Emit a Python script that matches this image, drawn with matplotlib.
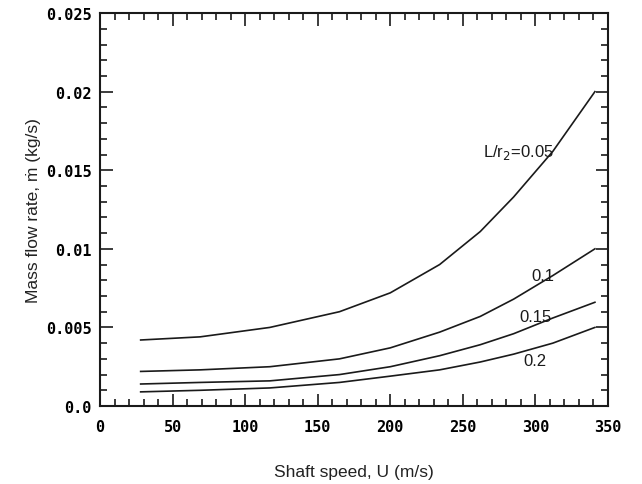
import matplotlib
matplotlib.use("Agg")
import matplotlib.pyplot as plt
from matplotlib.ticker import MultipleLocator, FixedLocator

# Data
U = [28, 69, 117, 165, 200, 234, 262, 285, 312, 341]
m_005 = [0.0042, 0.0044, 0.0050, 0.0060, 0.0072, 0.0090, 0.0111, 0.0133, 0.0162, 0.0200]
m_010 = [0.0022, 0.0023, 0.0025, 0.0030, 0.0037, 0.0047, 0.0057, 0.0068, 0.0083, 0.0100]
m_015 = [0.0014, 0.0015, 0.0016, 0.0020, 0.0025, 0.0032, 0.0039, 0.0046, 0.0056, 0.0066]
m_020 = [0.0009, 0.0010, 0.00115, 0.0015, 0.0019, 0.0023, 0.0028, 0.0033, 0.0040, 0.0050]
series = [m_005, m_010, m_015, m_020]
labels = ["L/r$_2$=0.05", "0.1", "0.15", "0.2"]
label_pos = [(288, 0.0162), (305, 0.0083), (300, 0.0057), (300, 0.0029)]

x_ticks = [0, 50, 100, 150, 200, 250, 300, 350]
x_ticklabels = ["0", "50", "100", "150", "200", "250", "300", "350"]
y_ticks = [0.0, 0.005, 0.01, 0.015, 0.02, 0.025]
y_ticklabels = ["0.0", "0.005", "0.01", "0.015", "0.02", "0.025"]

fig = plt.figure(figsize=(6.42, 4.85), dpi=100)
ax = fig.add_axes([0.1558, 0.1608, 0.947 - 0.1558, 0.971 - 0.1608])

for ys in series:
    ax.plot(U, ys, color="#1a1a1a", lw=1.2, solid_joinstyle="round")

for (lx, ly), lab in zip(label_pos, labels):
    ax.text(lx, ly, lab, ha="center", va="center", fontsize=12,
            family="Liberation Sans", color="#1a1a1a")

ax.set_xlim(0, 350)
ax.set_ylim(0, 0.025)
ax.xaxis.set_major_locator(FixedLocator(x_ticks))
ax.yaxis.set_major_locator(FixedLocator(y_ticks))
ax.set_xticklabels(x_ticklabels)
ax.set_yticklabels(y_ticklabels)
ax.xaxis.set_minor_locator(MultipleLocator(10))
ax.yaxis.set_minor_locator(MultipleLocator(0.001))
ax.tick_params(which="both", direction="in", top=True, right=True, width=1.2, color="#1a1a1a")
ax.tick_params(which="major", length=9, pad=9)
ax.tick_params(which="minor", length=5)
for lab in ax.get_xticklabels() + ax.get_yticklabels():
    lab.set_fontfamily("DejaVu Sans Mono")
    lab.set_fontweight("bold")
    lab.set_fontsize(11)
ax.tick_params(axis="y", pad=6)
for sp in ax.spines.values():
    sp.set_linewidth(1.5)
    sp.set_color("#1a1a1a")

ax.set_xlabel("Shaft speed, U (m/s)", fontsize=12.5, family="Liberation Sans", labelpad=22, color="#222222")
ax.set_ylabel("Mass flow rate, ṁ (kg/s)", fontsize=12.5, family="Liberation Sans", labelpad=4, color="#222222")

fig.savefig("out.png", dpi=100)
